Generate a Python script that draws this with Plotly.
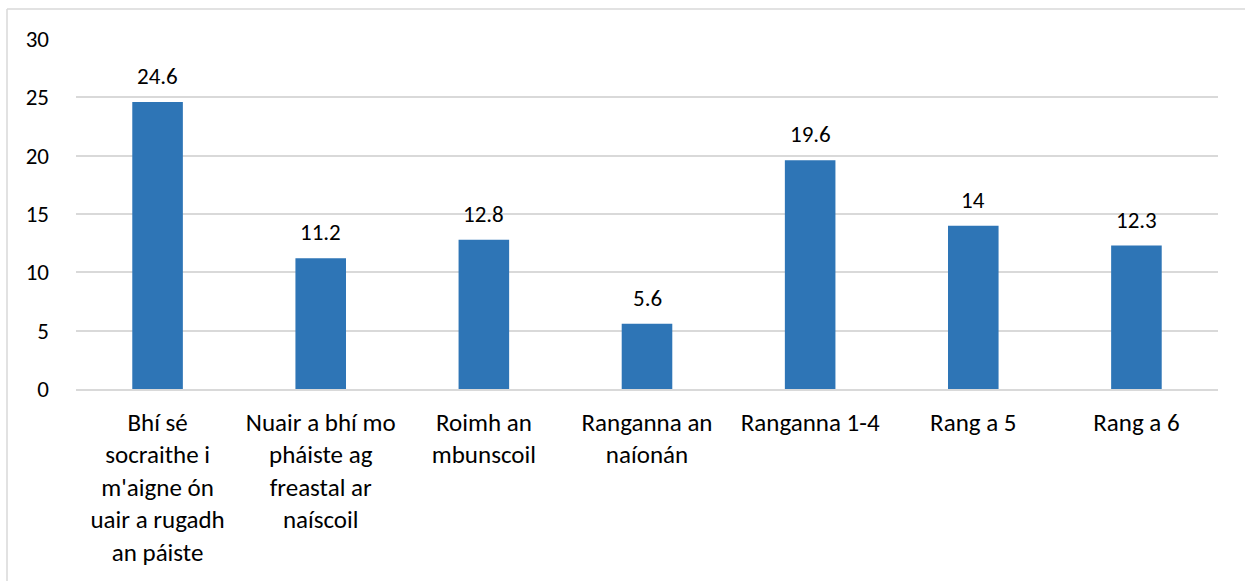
import plotly.graph_objects as go

categories = [
    "Bhí sé<br>socraithe i<br>m'aigne ón<br>uair a rugadh<br>an páiste",
    "Nuair a bhí mo<br>pháiste ag<br>freastal ar<br>naíscoil",
    "Roimh an<br>mbunscoil",
    "Ranganna an<br>naíonán",
    "Ranganna 1-4",
    "Rang a 5",
    "Rang a 6",
]
values = [24.6, 11.2, 12.8, 5.6, 19.6, 14, 12.3]
value_labels = ["24.6", "11.2", "12.8", "5.6", "19.6", "14", "12.3"]
y_ticks = [0, 5, 10, 15, 20, 25, 30]

FONT = "Carlito, Calibri, Lato, sans-serif"
W, H = 1245, 581
ml, mr, mt, mb = 76, 27, 39, 192

fig = go.Figure()
fig.add_trace(go.Bar(
    x=list(range(len(categories))), y=values,
    marker=dict(color="#2E75B6", line=dict(width=0)),
    width=0.31,
    hoverinfo="skip",
))

for i, (v, t) in enumerate(zip(values, value_labels)):
    fig.add_annotation(x=i, y=v, text=t, showarrow=False, yanchor="bottom",
                       yshift=10, font=dict(family=FONT, size=23, color="#000000"))

pw = W - ml - mr
ph = H - mt - mb
bx = (7 - ml) / pw
by = 1 + (mt - 9) / ph
fig.add_shape(type="line", xref="paper", yref="paper", x0=bx, x1=1.2, y0=by, y1=by,
              line=dict(color="#D9D9D9", width=1.5))
fig.add_shape(type="line", xref="paper", yref="paper", x0=bx, x1=bx, y0=by, y1=-1,
              line=dict(color="#D9D9D9", width=1.5))

fig.update_layout(
    width=W, height=H,
    margin=dict(l=ml, r=mr, t=mt, b=mb, pad=0),
    paper_bgcolor="white", plot_bgcolor="white",
    showlegend=False,
    font=dict(family=FONT, size=23, color="#000000"),
    xaxis=dict(
        tickmode="array", tickvals=list(range(len(categories))), ticktext=categories,
        range=[-0.5, len(categories) - 0.5],
        showgrid=False, showline=True, linecolor="#D9D9D9", linewidth=1.5,
        ticks="", tickangle=0, ticklabelstandoff=10,
        tickfont=dict(family=FONT, size=25, color="#000000"),
    ),
    yaxis=dict(
        range=[0, 30], tickmode="array", tickvals=y_ticks,
        showgrid=True, gridcolor="#D9D9D9", gridwidth=1.5,
        zeroline=False, showline=False, ticks="",
        ticklabelstandoff=26,
        tickfont=dict(family=FONT, size=23, color="#000000"),
    ),
)

fig.write_html("out.html", config={"displayModeBar": False},
               post_script="document.body.style.margin='0';")
